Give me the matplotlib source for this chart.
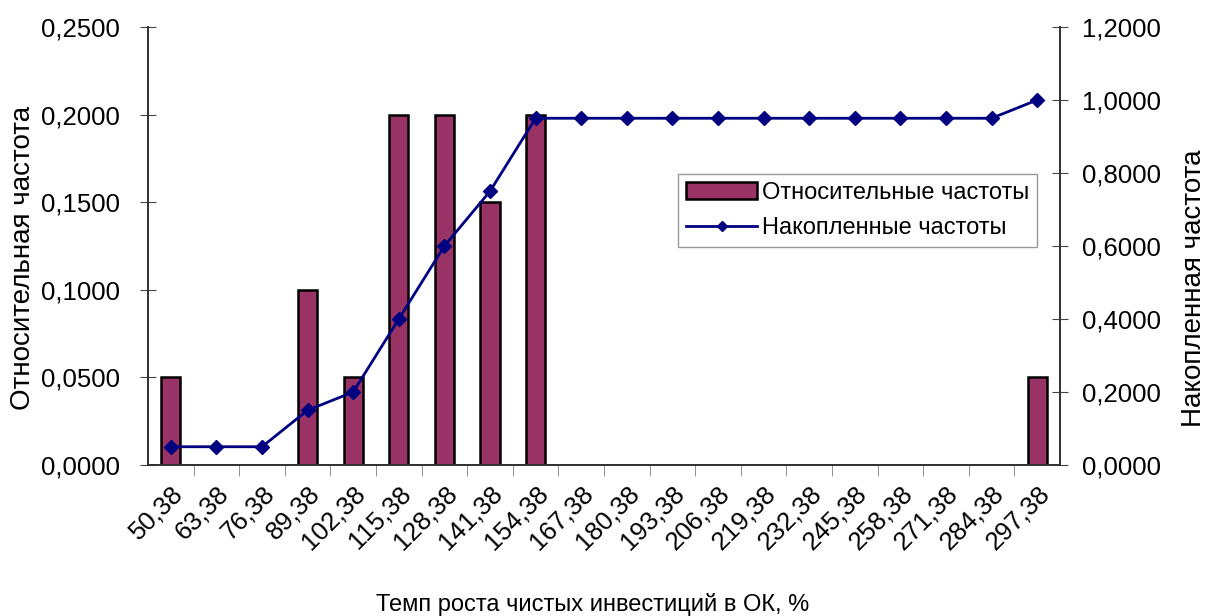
import matplotlib.pyplot as plt
from matplotlib.ticker import FuncFormatter, MultipleLocator

plt.rcParams['font.family'] = ['Liberation Sans', 'DejaVu Sans']

categories = ['50,38', '63,38', '76,38', '89,38', '102,38', '115,38', '128,38',
              '141,38', '154,38', '167,38', '180,38', '193,38', '206,38', '219,38',
              '232,38', '245,38', '258,38', '271,38', '284,38', '297,38']
rel_freq = [0.05, 0, 0, 0.10, 0.05, 0.20, 0.20, 0.15, 0.20, 0, 0, 0, 0, 0,
            0, 0, 0, 0, 0, 0.05]
cum_freq = [0.05, 0.05, 0.05, 0.15, 0.20, 0.40, 0.60, 0.75, 0.95, 0.95, 0.95,
            0.95, 0.95, 0.95, 0.95, 0.95, 0.95, 0.95, 0.95, 1.00]

fmt = FuncFormatter(lambda v, p: f'{v:.4f}'.replace('.', ','))
fs = 18.5

fig = plt.figure(figsize=(12.08, 6.16), dpi=100)
ax = fig.add_axes([148 / 1208, 1 - 465 / 616, 912 / 1208, 438 / 616])
ax2 = ax.twinx()

x = list(range(len(categories)))
# zero-height bars are not drawn
bx = [i for i, v in zip(x, rel_freq) if v > 0]
bv = [v for v in rel_freq if v > 0]
ax.bar(bx, bv, width=0.42, color='#993366', edgecolor='black', lw=1.8,
       label='Относительные частоты')
ax2.plot(x, cum_freq, color='#000080', lw=2, marker='D', ms=7,
         label='Накопленные частоты')

ax.set_xlim(-0.5, len(categories) - 0.5)
ax.set_ylim(0, 0.25)
ax2.set_ylim(0, 1.2)
ax.yaxis.set_major_locator(MultipleLocator(0.05))
ax2.yaxis.set_major_locator(MultipleLocator(0.2))
ax.yaxis.set_major_formatter(fmt)
ax2.yaxis.set_major_formatter(fmt)

ax.set_xticks(x)
ax.set_xticklabels(categories, rotation=45, ha='right', rotation_mode='anchor',
                   fontsize=fs)
ax.tick_params(axis='x', length=0, pad=12)
ax.set_xticks([i + 0.5 for i in x[:-1]], minor=True)
ax.tick_params(axis='x', which='minor', length=8, color='gray')
ax.tick_params(axis='y', labelsize=fs, length=12, direction='inout',
               color='#444444', pad=14)
ax2.tick_params(axis='y', labelsize=fs, length=12, direction='inout',
                color='#444444', pad=10)

for a in (ax, ax2):
    a.spines['top'].set_visible(False)
    for s in ('left', 'right', 'bottom'):
        a.spines[s].set_color('#333333')
        a.spines[s].set_linewidth(1.3)

# axis titles, placed by their centres in pixels
fig.text(23 / 1208, 1 - 258 / 616, 'Относительная частота', fontsize=20,
         rotation=90, ha='center', va='center')
fig.text(1194 / 1208, 1 - 288 / 616, 'Накопленная частота', fontsize=20,
         rotation=90, ha='center', va='center')
fig.text(593 / 1208, 1 - 605 / 616, 'Темп роста чистых инвестиций в ОК, %',
         fontsize=17, ha='center', va='center')

h1, l1 = ax.get_legend_handles_labels()
h2, l2 = ax2.get_legend_handles_labels()
ax2.legend(h1 + h2, l1 + l2, loc='upper left', bbox_to_anchor=(0.581, 0.665),
           fontsize=17, frameon=True, fancybox=False, edgecolor='gray',
           handlelength=3.0, handletextpad=0.2, labelspacing=0.55,
           borderpad=0.35, markerscale=0.75, borderaxespad=0)

fig.savefig('out.png', dpi=100)
